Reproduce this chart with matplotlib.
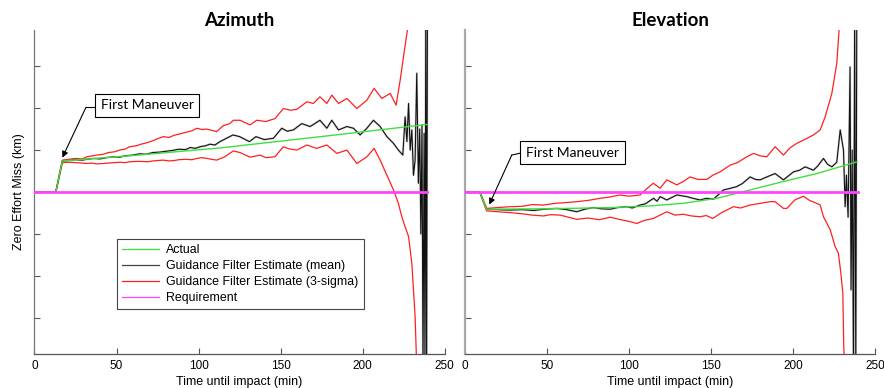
import matplotlib
matplotlib.use("Agg")
import matplotlib.pyplot as plt
from matplotlib.lines import Line2D

# ---------------- data ----------------
titles = ["Azimuth", "Elevation"]
xlabel = "Time until impact (min)"
ylabel = "Zero Effort Miss (km)"
xticks = [0, 50, 100, 150, 200, 250]
yticks = [-3, -2, -1, 0, 1, 2, 3]
legend_labels = ["Actual", "Guidance Filter Estimate (mean)",
                 "Guidance Filter Estimate (3-sigma)", "Requirement"]
annot_text = "First Maneuver"

req_t = [0, 239.3]
req_v = [0, 0]

# Azimuth
az_act_t = [0, 13, 17, 60, 113, 170, 239.3]
az_act_v = [0, 0, 0.74, 0.87, 1.05, 1.30, 1.61]

az_mean_t = [0, 13, 17, 21, 25, 29, 32, 36, 40, 44, 48, 52, 55, 60, 64, 68, 72, 76,
             80, 84, 88, 92, 95, 98, 101, 104, 107, 110, 113, 117, 121, 125, 128,
             131, 135, 140, 145.6, 150.7, 154, 157.8, 162.9, 168, 174, 178.2, 181.2,
             185.3, 190.4, 194.4, 198.5, 202.6, 206.6, 210.7, 214.8, 218.8, 221.8,
             224.5, 225.9, 227, 228, 229, 230, 231, 232, 233, 234, 234.8, 235.5,
             236.2, 236.8, 237.5, 238, 238.5, 239, 239.5]
az_mean_v = [0, 0, 0.74, 0.75, 0.77, 0.76, 0.78, 0.80, 0.79, 0.82, 0.84, 0.83, 0.86,
             0.88, 0.91, 0.90, 0.94, 0.95, 0.97, 0.99, 1.02, 1.01, 1.06, 1.04, 1.08,
             1.10, 1.14, 1.12, 1.20, 1.28, 1.36, 1.32, 1.26, 1.20, 1.32, 1.25, 1.28,
             1.52, 1.45, 1.48, 1.63, 1.56, 1.71, 1.52, 1.71, 1.48, 1.56, 1.52, 1.36,
             1.52, 1.71, 1.56, 1.32, 1.16, 1.00, 0.88, 1.79, 1.20, 2.11, 1.00, 1.48,
             0.40, 0.76, 2.83, 0.21, 1.50, -1.00, 1.60, -4.2, 1.40, -4.2, 4.2, -4.2, 4.2]

az_up_t = [0, 13, 17, 21, 25, 29, 32, 35, 38, 42, 45, 49, 52, 55, 58, 62, 65, 69, 72,
           75, 78.5, 82, 85, 88, 92, 96, 99, 102, 105, 108, 111, 115, 119, 121.2,
           125.3, 128, 131.4, 135.5, 141, 146.6, 151.7, 156, 159.9, 166, 170, 174,
           178.2, 181.2, 185.3, 190.4, 196.5, 202.6, 207, 211.7, 216.8, 220.4, 222.9,
           224.9, 227, 228.6]
az_up_v = [0, 0, 0.76, 0.78, 0.80, 0.79, 0.84, 0.86, 0.88, 0.90, 0.94, 0.96, 1.00,
           1.02, 1.08, 1.10, 1.14, 1.18, 1.22, 1.27, 1.32, 1.30, 1.35, 1.38, 1.42,
           1.46, 1.52, 1.49, 1.50, 1.47, 1.44, 1.58, 1.63, 1.71, 1.71, 1.66, 1.60,
           1.71, 1.68, 1.75, 1.99, 1.95, 1.97, 2.15, 2.11, 2.27, 2.11, 2.31, 2.11,
           2.23, 1.99, 2.19, 2.47, 2.23, 2.35, 2.07, 2.67, 3.22, 3.78, 4.2]

az_lo_t = [0, 13, 17, 21, 25, 29, 32, 35, 38, 42, 45, 49, 52, 55, 58, 62, 65, 69, 72,
           75, 78.5, 82, 85, 88, 92, 96, 99, 102, 105, 108, 111, 116, 121.2, 125.3,
           131.4, 137.5, 141, 146.6, 151.7, 155, 159.9, 166, 172, 178.2, 184.3,
           190.4, 196.5, 202.6, 207, 210.7, 214.8, 218.8, 221.8, 223.9, 225.9, 228,
           230, 231, 232, 233]
az_lo_v = [0, 0, 0.70, 0.71, 0.70, 0.69, 0.68, 0.69, 0.67, 0.68, 0.69, 0.70, 0.71,
           0.70, 0.72, 0.73, 0.73, 0.72, 0.74, 0.75, 0.76, 0.74, 0.75, 0.77, 0.78,
           0.77, 0.80, 0.82, 0.80, 0.78, 0.76, 0.84, 0.98, 0.94, 0.83, 0.88, 0.82,
           0.84, 1.08, 1.03, 1.00, 1.12, 1.04, 1.12, 0.92, 1.00, 0.68, 0.84, 1.04,
           0.76, 0.40, 0.05, -0.27, -0.59, -0.83, -1.06, -1.70, -2.33, -2.97, -4.2]

# Elevation
el_act_t = [0, 9, 13.2, 50, 90, 113, 133, 153.5, 173.8, 194, 214.4, 239]
el_act_v = [0, 0, -0.41, -0.40, -0.37, -0.33, -0.27, -0.15, 0.05, 0.25, 0.44, 0.72]

el_mean_t = [0, 9, 13.2, 20, 27.4, 35, 42, 47.8, 55.9, 62, 68.1, 73, 78.2, 83, 88.4,
             93, 98.6, 102, 106.7, 110, 113, 115, 117, 119, 123, 129.1, 135.2, 139,
             143.3, 147, 151.4, 154, 157.5, 161, 165.7, 169, 173.8, 177, 179.9, 184,
             189, 194.1, 197, 200.2, 204, 207.3, 212.4, 215, 218.5, 221, 223.6, 226.6,
             228.7, 230.7, 231.7, 232.5, 233.5, 234.7, 235.3, 236, 236.8, 237.5,
             238.2, 238.8]
el_mean_v = [0, 0, -0.41, -0.42, -0.43, -0.42, -0.44, -0.41, -0.39, -0.42, -0.47,
             -0.41, -0.37, -0.40, -0.41, -0.37, -0.35, -0.38, -0.31, -0.28, -0.20,
             -0.15, -0.22, -0.11, -0.19, -0.07, -0.11, -0.15, -0.19, -0.15, -0.17,
             -0.08, 0.05, 0.08, 0.13, 0.20, 0.36, 0.30, 0.29, 0.36, 0.44, 0.29, 0.38,
             0.48, 0.52, 0.60, 0.52, 0.62, 0.80, 0.66, 0.60, 0.71, 1.48, 1.00, -0.35,
             0.40, -0.60, 2.98, -2.33, 1.00, -4.2, 4.2, -4.2, 4.2]

el_up_t = [0, 9, 13.2, 20, 27.4, 35, 41, 47.8, 55, 62, 68.1, 75, 82.3, 88, 94.5, 100,
           106.7, 110, 114.8, 118.9, 123, 129.1, 133, 137.2, 142, 147.4, 151, 155.5,
           161.6, 166, 171.8, 175.9, 180, 184, 189, 194.1, 198, 202.2, 207, 212.4,
           216.5, 219.5, 223.6, 226.6, 228.6]
el_up_v = [0, 0, -0.39, -0.37, -0.35, -0.34, -0.30, -0.31, -0.27, -0.25, -0.23, -0.20,
           -0.15, -0.12, -0.07, -0.10, -0.07, 0.05, 0.21, 0.09, 0.29, 0.17, 0.25, 0.36,
           0.30, 0.30, 0.40, 0.48, 0.64, 0.70, 0.84, 0.92, 0.86, 0.84, 1.08, 0.88,
           1.05, 1.16, 1.25, 1.36, 1.48, 1.79, 2.35, 3.06, 4.2]

el_lo_t = [0, 9, 13.2, 20, 27.4, 35, 41, 47.8, 52, 58, 63, 68.1, 75, 82, 88.4, 95, 100,
           104.7, 109, 114.8, 118.9, 123, 128, 133.1, 138, 143.3, 147, 151, 156, 163.6,
           168, 173.8, 180, 186, 189, 194.1, 196.2, 201, 206.3, 210, 214.4, 216.5,
           218.5, 222.6, 225.6, 227.6, 229.1, 230.3, 230.7, 231.2]
el_lo_v = [0, 0, -0.45, -0.47, -0.49, -0.52, -0.55, -0.57, -0.54, -0.55, -0.60, -0.65,
           -0.62, -0.66, -0.60, -0.66, -0.70, -0.75, -0.68, -0.63, -0.55, -0.47, -0.55,
           -0.53, -0.57, -0.59, -0.56, -0.63, -0.50, -0.35, -0.38, -0.31, -0.27, -0.23,
           -0.23, -0.39, -0.39, -0.19, -0.10, -0.20, -0.27, -0.31, -0.59, -0.90, -1.30,
           -1.46, -1.94, -2.41, -3.37, -4.2]

panels = [
    dict(act=(az_act_t, az_act_v), mean=(az_mean_t, az_mean_v),
         up=(az_up_t, az_up_v), lo=(az_lo_t, az_lo_v)),
    dict(act=(el_act_t, el_act_v), mean=(el_mean_t, el_mean_v),
         up=(el_up_t, el_up_v), lo=(el_lo_t, el_lo_v)),
]

# ---------------- styling ----------------
C_ACT = "#3de03d"
C_MEAN = "#111111"
C_SIG = "#ff1f1f"
C_REQ = "#ff44ff"

fig = plt.figure(figsize=(8.84, 3.88), dpi=100)
axes_pos = [[0.039, 0.0876, 0.464, 0.835], [0.526, 0.0876, 0.464, 0.835]]
ylim = (-3.86, 3.86)

# annotation positions (data coords): box center, box-left, kink, arrow tip
annots = [
    dict(center=(68.6, 2.07), left=(36.9, 2.02), kink=(31.4, 2.02), tip=(17.0, 0.82)),
    dict(center=(65.5, 0.94), left=(34.1, 0.93), kink=(28.5, 0.88), tip=(14.8, -0.30)),
]

for i, (pos, p) in enumerate(zip(axes_pos, panels)):
    ax = fig.add_axes(pos)
    ax.plot(*p["mean"], color="#888888", lw=1.6, alpha=0.35, zorder=2)
    ax.plot(*p["up"], color=C_SIG, lw=0.9, zorder=3)
    ax.plot(*p["lo"], color=C_SIG, lw=0.9, zorder=3)
    ax.plot(*p["mean"], color=C_MEAN, lw=0.8, zorder=4)
    ax.plot(*p["act"], color=C_ACT, lw=1.0, zorder=5)
    ax.plot(req_t, req_v, color=C_REQ, lw=2.0, zorder=6)

    ax.set_xlim(0, 250)
    ax.set_ylim(*ylim)
    ax.set_xticks(xticks)
    ax.set_yticks(yticks)
    ax.set_yticklabels([])
    ax.tick_params(direction="in", length=4, width=0.8, colors="#555555",
                   labelcolor="black", labelsize=8.5, pad=4)
    for s in ("top", "right"):
        ax.spines[s].set_visible(False)
    ax.spines["bottom"].set_color("#555555")
    ax.spines["bottom"].set_linewidth(0.9)
    if i == 0:
        ax.spines["left"].set_color("#777777")
        ax.spines["left"].set_linewidth(0.9)
    else:
        ax.spines["left"].set_color("#a8a8a8")
        ax.spines["left"].set_linewidth(1.6)

    ax.set_title(titles[i], fontsize=13.5, fontweight="bold", family="Lato", pad=3)
    ax.set_xlabel(xlabel, fontsize=9, family="Liberation Sans", labelpad=3)
    if i == 0:
        ax.set_ylabel(ylabel, fontsize=9, family="Liberation Sans", labelpad=3)
    for lab in ax.get_xticklabels():
        lab.set_family("Liberation Sans")

    a = annots[i]
    ax.plot([a["left"][0], a["kink"][0]], [a["left"][1], a["kink"][1]],
            color="black", lw=0.8, zorder=7)
    ax.annotate("", xy=a["tip"], xytext=a["kink"],
                arrowprops=dict(arrowstyle="-|>", color="black", lw=0.8,
                                mutation_scale=9, shrinkA=0, shrinkB=0), zorder=7)
    ax.text(a["center"][0], a["center"][1], annot_text, fontsize=10, family="Lato",
            ha="center", va="center", zorder=8,
            bbox=dict(boxstyle="square,pad=0.4", fc="white", ec="black", lw=0.8))

    if i == 0:
        handles = [Line2D([], [], color=C_ACT, lw=0.9),
                   Line2D([], [], color="#444444", lw=0.9),
                   Line2D([], [], color=C_SIG, lw=0.9),
                   Line2D([], [], color=C_REQ, lw=0.9)]
        leg = ax.legend(handles, legend_labels, loc="lower left",
                        bbox_to_anchor=(0.201, 0.139), borderaxespad=0,
                        prop={"family": "Liberation Sans", "size": 8.9},
                        handlelength=3.0, handletextpad=0.6, labelspacing=0.32,
                        borderpad=0.4, fancybox=False, framealpha=1, edgecolor="#444444")
        leg.get_frame().set_linewidth(0.8)

fig.savefig("out.png", dpi=100)
